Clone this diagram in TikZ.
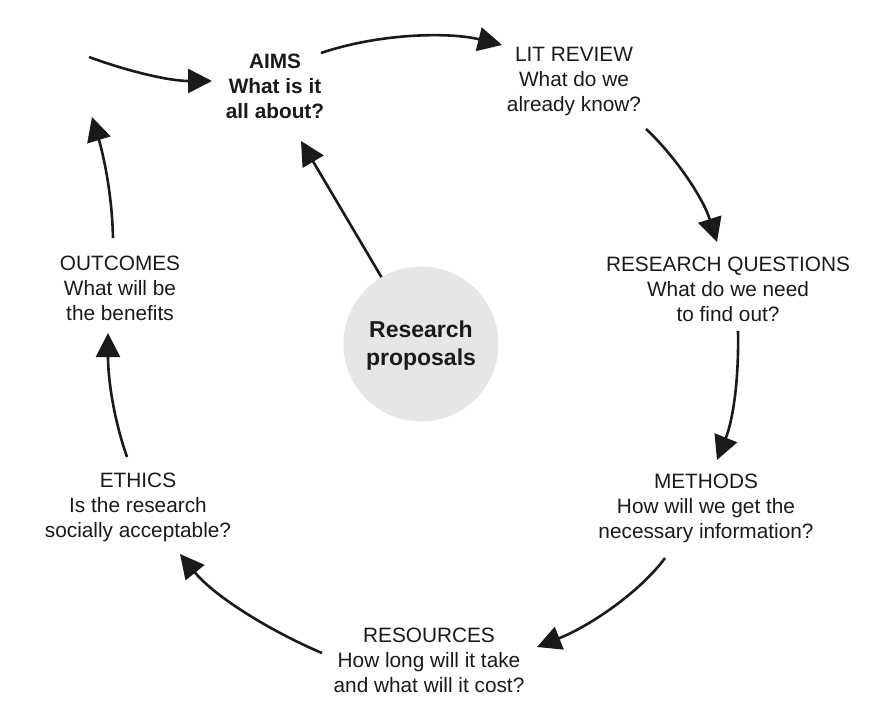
\documentclass[tikz,border=0pt]{standalone}
\usepackage{fontspec}
\setmainfont{Liberation Sans}
\usetikzlibrary{arrows.meta}
\definecolor{circgray}{HTML}{E6E6E6}
\definecolor{ink}{HTML}{1A1A1A}
\begin{document}
\begin{tikzpicture}[x=1pt,y=-1pt,
  lbl/.style={align=center, anchor=north, inner sep=0pt, text=ink, font=\fontsize{20.8}{25}\selectfont},
  arr/.style={line width=2.6pt, draw=ink, -{Triangle[length=24pt,width=24pt]}},
  hub/.style={circle, fill=circgray, minimum size=155pt, inner sep=0pt}
]
\useasboundingbox (0,0) rectangle (892,720);

% central hub
\node[hub] (hub) at (421,344) {};
\node[align=center, inner sep=0pt, anchor=north, text=ink, font=\fontsize{23}{28}\selectfont\bfseries] (hubtxt) at (421,320.5) {Research\\proposals};

% labels
\node[lbl, font=\fontsize{20.8}{25}\selectfont\bfseries] (aims) at (275,53.3) {AIMS\\What is it\\all about?};
\node[lbl] (lit) at (574,47.3) {LIT REVIEW\\What do we\\already know?};
\node[lbl] (rq) at (728,256.3) {RESEARCH QUESTIONS\\What do we need\\to find out?};
\node[lbl] (meth) at (706,473.3) {METHODS\\How will we get the\\necessary information?};
\node[lbl] (res) at (429,627.3) {RESOURCES\\How long will it take\\and what will it cost?};
\node[lbl] (eth) at (138,472.3) {ETHICS\\Is the research\\socially acceptable?};
\node[lbl] (out) at (120,255.3) {OUTCOMES\\What will be\\the benefits};

% connector end points
\coordinate (p1s) at (89,57);   \coordinate (p1e) at (212,81);
\coordinate (p2s) at (321,53);  \coordinate (p2e) at (502,45);
\coordinate (p3s) at (646,129); \coordinate (p3e) at (717,242);
\coordinate (p4s) at (738,331); \coordinate (p4e) at (717,460);
\coordinate (p5s) at (665,558); \coordinate (p5e) at (537,647);
\coordinate (p6s) at (322,653); \coordinate (p6e) at (180,554);
\coordinate (p7s) at (127,457); \coordinate (p7e) at (108,333);
\coordinate (p8s) at (113,238); \coordinate (p8e) at (92,117);
\coordinate (p9e) at (301,141);

% connectors
\draw[arr] (p1s) .. controls (130,72) and (170,81) .. (p1e);
\draw[arr] (p2s) .. controls (380,33) and (450,32) .. (p2e);
\draw[arr] (p3s) .. controls (672,153) and (702,195) .. (p3e);
\draw[arr] (p4s) .. controls (739,380) and (733,420) .. (p4e);
\draw[arr] (p5s) .. controls (640,592) and (590,626) .. (p5e);
\draw[arr] (p6s) .. controls (270,631) and (214,596) .. (p6e);
\draw[arr] (p7s) .. controls (114,420) and (108,380) .. (p7e);
\draw[arr] (p8s) .. controls (112,190) and (102,150) .. (p8e);
\draw[arr] (hub) -- (p9e);
\end{tikzpicture}
\end{document}
